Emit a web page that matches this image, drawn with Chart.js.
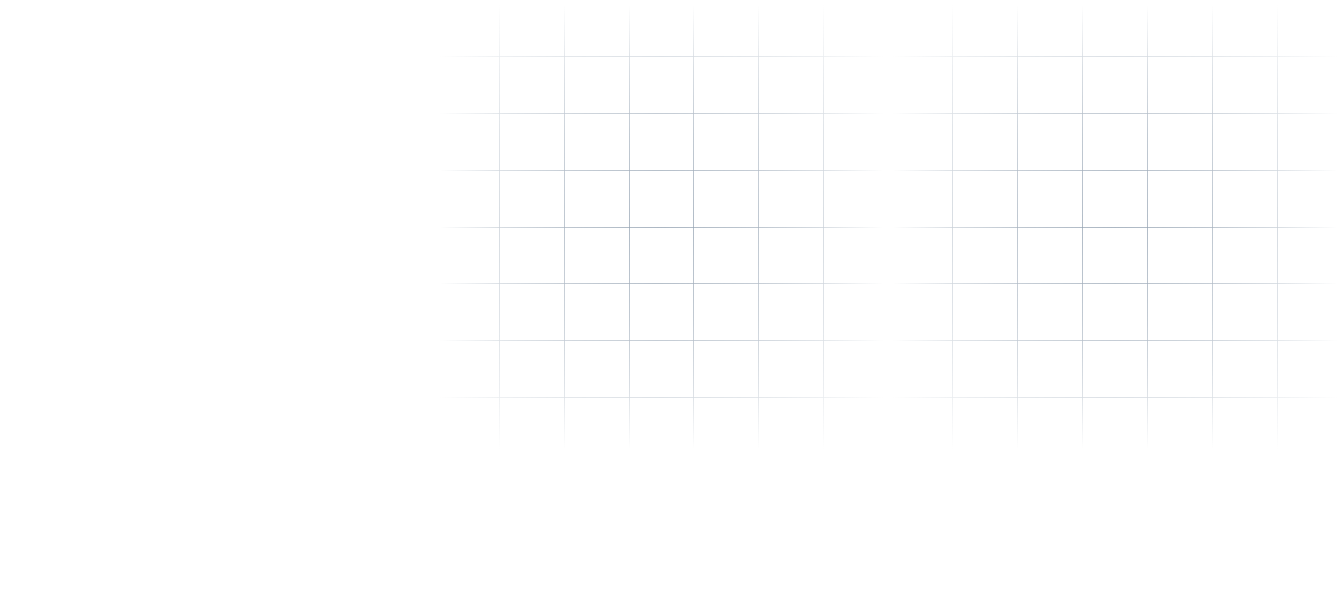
<!DOCTYPE html>
<html>
<head>
<meta charset="utf-8">
<script src="https://cdn.jsdelivr.net/npm/chart.js@4/dist/chart.umd.min.js"></script>
<style>
  html, body { margin: 0; padding: 0; background: #ffffff; }
  body { width: 1343px; height: 603px; position: relative; overflow: hidden; }
  .panel {
    position: absolute; top: 0; height: 454px;
    -webkit-mask-image:
      linear-gradient(to right, transparent 1%, rgba(0,0,0,0.15) 5%, rgba(0,0,0,0.5) 15%, rgba(0,0,0,0.8) 30%, #000 50%, rgba(0,0,0,0.8) 70%, rgba(0,0,0,0.5) 85%, rgba(0,0,0,0.15) 95%, transparent 99%),
      linear-gradient(to bottom, transparent 1%, rgba(0,0,0,0.15) 5%, rgba(0,0,0,0.5) 15%, rgba(0,0,0,0.8) 30%, #000 50%, rgba(0,0,0,0.8) 70%, rgba(0,0,0,0.5) 85%, rgba(0,0,0,0.15) 95%, transparent 99%);
    -webkit-mask-composite: source-in;
    mask-image:
      linear-gradient(to right, transparent 1%, rgba(0,0,0,0.15) 5%, rgba(0,0,0,0.5) 15%, rgba(0,0,0,0.8) 30%, #000 50%, rgba(0,0,0,0.8) 70%, rgba(0,0,0,0.5) 85%, rgba(0,0,0,0.15) 95%, transparent 99%),
      linear-gradient(to bottom, transparent 1%, rgba(0,0,0,0.15) 5%, rgba(0,0,0,0.5) 15%, rgba(0,0,0,0.8) 30%, #000 50%, rgba(0,0,0,0.8) 70%, rgba(0,0,0,0.5) 85%, rgba(0,0,0,0.15) 95%, transparent 99%);
    mask-composite: intersect;
  }
  #panelLeft { left: 435px; width: 453px; }
  #panelRight { left: 888px; width: 454px; }
</style>
</head>
<body>
<div class="panel" id="panelLeft"><canvas id="gridLeft"></canvas></div>
<div class="panel" id="panelRight"><canvas id="gridRight"></canvas></div>
<script>
// grid positions (no series are drawn in the reference, only the grid)
const xTicks = [1, 2, 3, 4, 5, 6]
const yTicks = [1, 2, 3, 4, 5, 6, 7]
const xRange = [0, 7]
const yRange = [0, 8]
const seriesValues = []

const gridColor = 'rgba(140, 155, 172, 0.72)'

function makeGrid(canvasId){
    let ctx = document.getElementById(canvasId).getContext('2d')
    return new Chart(ctx, {
        type: 'line',
        data: {
            datasets: [{
                data: seriesValues,
                borderWidth: 0,
                pointRadius: 0
            }]
        },
        options: {
            responsive: true,
            maintainAspectRatio: false,
            animation: false,
            layout: { padding: 0 },
            plugins: {
                legend: { display: false },
                tooltip: { enabled: false }
            },
            scales: {
                x: {
                    type: 'linear',
                    min: xRange[0],
                    max: xRange[1],
                    afterBuildTicks: scale => { scale.ticks = xTicks.map(v => ({ value: v })) },
                    ticks: { display: false },
                    border: { display: false },
                    grid: { color: gridColor, lineWidth: 1, drawTicks: false }
                },
                y: {
                    type: 'linear',
                    min: yRange[0],
                    max: yRange[1],
                    afterBuildTicks: scale => { scale.ticks = yTicks.map(v => ({ value: v })) },
                    ticks: { display: false },
                    border: { display: false },
                    grid: { color: gridColor, lineWidth: 1, drawTicks: false }
                }
            }
        }
    })
}

makeGrid('gridLeft')
makeGrid('gridRight')
</script>
</body>
</html>
